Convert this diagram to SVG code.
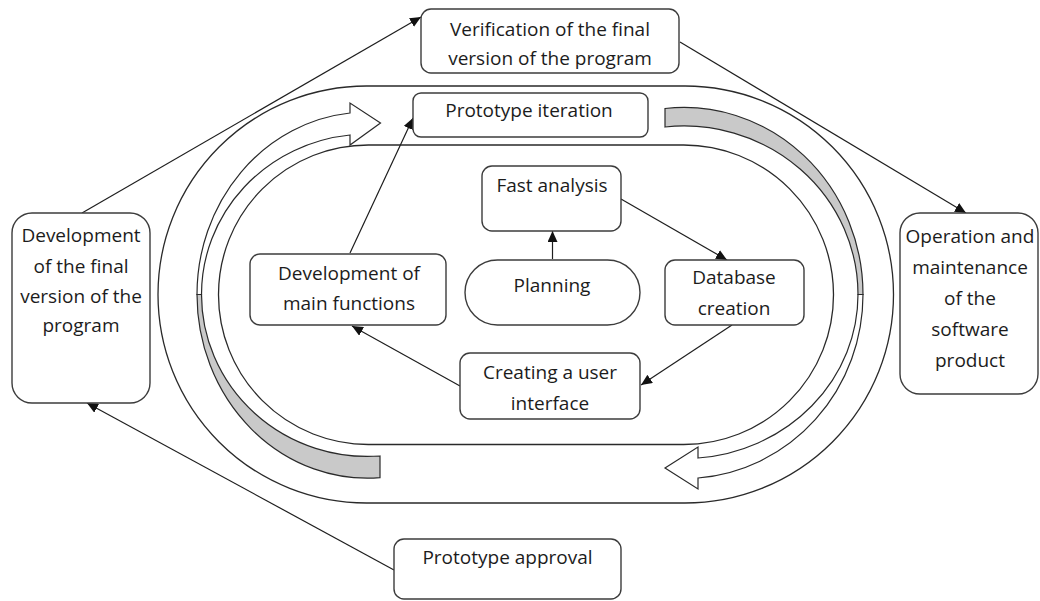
<svg xmlns="http://www.w3.org/2000/svg" width="1040" height="601" viewBox="0 0 1040 601">
  <defs>
    <style>
      .box { fill: #ffffff; stroke: #3c3c3c; stroke-width: 1.4; }
      .ring { fill: none; stroke: #2a2a2a; stroke-width: 1.3; }
      .band-front { fill: #ffffff; stroke: #2a2a2a; stroke-width: 1.2; stroke-linejoin: miter; }
      .band-back { fill: #c9c9c9; stroke: #2a2a2a; stroke-width: 1.2; }
      .edge { fill: none; stroke: #1e1e1e; stroke-width: 1.2; marker-end: url(#ah); }
      text { font-family: "Open Sans", "Noto Sans", "DejaVu Sans", sans-serif; font-size: 19px; fill: #1c1c1c; text-anchor: middle; }
    </style>
    <marker id="ah" viewBox="0 0 11 10" refX="11" refY="5" markerWidth="11" markerHeight="10" markerUnits="userSpaceOnUse" orient="auto">
      <path d="M0,0 L11,5 L0,10 Z" fill="#111111"/>
    </marker>
  </defs>

  <rect width="1040" height="601" fill="#ffffff"/>

  <!-- iteration track: two concentric stadiums -->
  <g id="track">
    <rect class="ring" x="158" y="86" width="735.5" height="417" rx="208.5"/>
    <rect class="ring" x="218.5" y="145" width="615" height="299.5" rx="149.75"/>
  </g>

  <!-- curved block arrows running around the track -->
  <g id="cycle-arrows">
    <path class="band-back" d="M197,294.5 A170.5,183.7 0 0 0 380,477.7 L380,456 A166,162 0 0 1 201.5,294.5 Z"/>
    <path class="band-front" d="M197,294.5 A170.5,182.5 0 0 1 350,113 L350,103 L380.5,123 L350,145 L350,135 A166,160.4 0 0 0 201.5,294.5 Z"/>
    <path class="band-back" d="M863,294.5 A179,187 0 0 0 665,108.5 L665,127 A174,168.5 0 0 1 858,294.5 Z"/>
    <path class="band-front" d="M863,294.5 A179,184 0 0 1 698,478 L698,489 L665,468 L698,447 L698,458 A174,164 0 0 0 858,294.5 Z"/>
  </g>

  <!-- connectors -->
  <g id="connectors">
    <path class="edge" d="M552.5,259 L552.5,231"/>
    <path class="edge" d="M621,199 L727,260"/>
    <path class="edge" d="M732,325 L641,385"/>
    <path class="edge" d="M460,386 L352,326"/>
    <path class="edge" d="M350,253 L413,118"/>
    <path class="edge" d="M82,213 L421,17"/>
    <path class="edge" d="M680,42 L966,213"/>
    <path class="edge" d="M394,570 L87,403"/>
  </g>

  <g id="verification">
    <rect class="box" x="421" y="9" width="258" height="64" rx="10"/>
    <text x="550" y="36">Verification of the final</text>
    <text x="550" y="65">version of the program</text>
  </g>

  <g id="prototype-iteration">
    <rect class="box" x="413" y="93" width="235" height="44" rx="8"/>
    <text x="529" y="117">Prototype iteration</text>
  </g>

  <g id="fast-analysis">
    <rect class="box" x="482" y="166" width="139" height="65" rx="10"/>
    <text x="552" y="192">Fast analysis</text>
  </g>

  <g id="planning">
    <rect class="box" x="465" y="260" width="175" height="65" rx="32.5"/>
    <text x="552" y="292">Planning</text>
  </g>

  <g id="database-creation">
    <rect class="box" x="665" y="260" width="139" height="65" rx="10"/>
    <text x="734" y="284">Database</text>
    <text x="734" y="315">creation</text>
  </g>

  <g id="main-functions">
    <rect class="box" x="250" y="254" width="196" height="71" rx="10"/>
    <text x="349" y="280">Development of</text>
    <text x="349" y="310">main functions</text>
  </g>

  <g id="user-interface">
    <rect class="box" x="460" y="353" width="180" height="66" rx="10"/>
    <text x="550" y="379">Creating a user</text>
    <text x="550" y="410">interface</text>
  </g>

  <g id="final-development">
    <rect class="box" x="12" y="213" width="138" height="190" rx="20"/>
    <text x="81" y="242">Development</text>
    <text x="81" y="273">of the final</text>
    <text x="81" y="303">version of the</text>
    <text x="81" y="332">program</text>
  </g>

  <g id="operation">
    <rect class="box" x="900" y="213" width="138" height="181" rx="20"/>
    <text x="970" y="243">Operation and</text>
    <text x="970" y="274">maintenance</text>
    <text x="970" y="305">of the</text>
    <text x="970" y="336">software</text>
    <text x="970" y="367">product</text>
  </g>

  <g id="prototype-approval">
    <rect class="box" x="394" y="539" width="227" height="60" rx="10"/>
    <text x="507.5" y="564">Prototype approval</text>
  </g>
</svg>
